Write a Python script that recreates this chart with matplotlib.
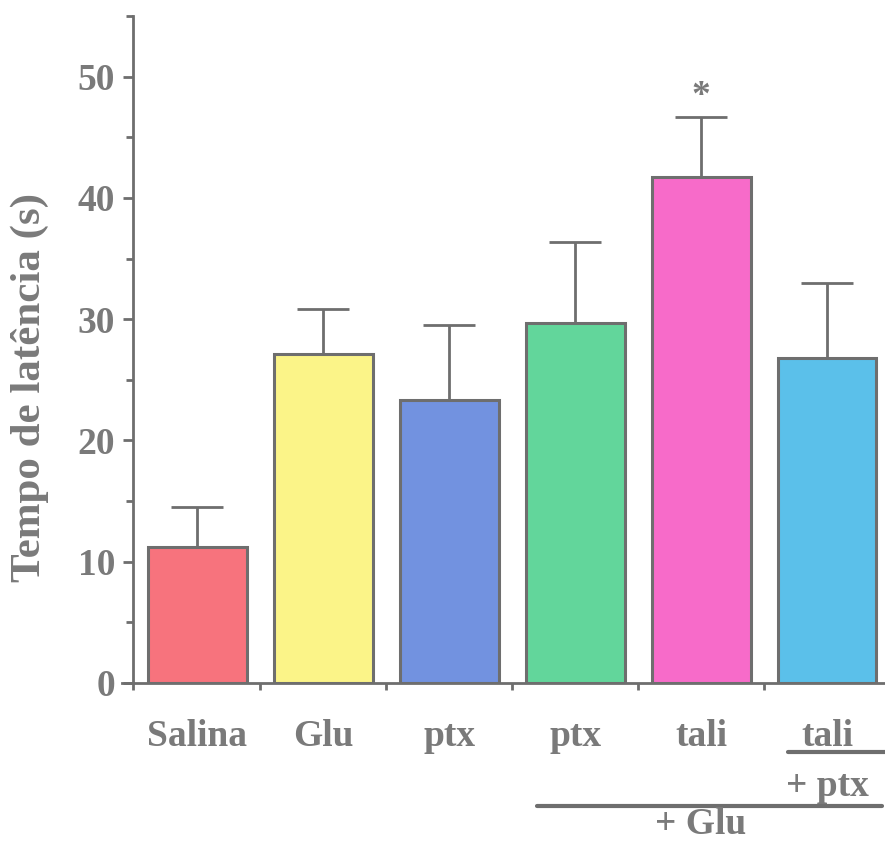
import matplotlib
matplotlib.use("Agg")
import matplotlib.pyplot as plt
from matplotlib.transforms import blended_transform_factory
from matplotlib.ticker import MultipleLocator

groups = ["Salina", "Glu", "ptx", "ptx", "tali", "tali"]
means = [11.2, 27.1, 23.3, 29.7, 41.7, 26.8]
errors = [3.3, 3.7, 6.2, 6.7, 5.0, 6.2]
colors = ["#f7737d", "#fbf488", "#7292e0", "#62d69b", "#f76bc9", "#5bc0ea"]
yticks = [0, 10, 20, 30, 40, 50]

ink = "#6e6e6e"
txt = "#7a7a7a"
plt.rcParams["font.family"] = ["Liberation Serif", "DejaVu Serif"]
plt.rcParams["font.weight"] = "bold"

fig = plt.figure(figsize=(8.85, 8.42), dpi=100)
W, H = 885, 842
ax = fig.add_axes([133 / W, (H - 683) / H, (885 - 133) / W, (683 - 16) / H])

x = list(range(len(groups)))
ax.bar(x, means, width=0.785, color=colors, edgecolor=ink, linewidth=2.2, zorder=2)
ax.errorbar(x, means, yerr=[[0] * len(errors), errors], fmt="none", ecolor=ink,
            elinewidth=2, capsize=18.5, capthick=2, zorder=3)

ax.set_xlim(-0.51, 5.46)
ax.set_ylim(0, 55)

for s in ["top", "right"]:
    ax.spines[s].set_visible(False)
for s in ["left", "bottom"]:
    ax.spines[s].set_color(ink)
    ax.spines[s].set_linewidth(2)

ax.set_yticks(yticks)
ax.yaxis.set_minor_locator(MultipleLocator(5))
ax.tick_params(axis="y", which="major", length=7, width=2, color=ink,
               labelsize=27, labelcolor=txt, pad=6)
ax.tick_params(axis="y", which="minor", length=5, width=2, color=ink)
ax.set_xticks([-0.51, 0.5, 1.5, 2.5, 3.5, 4.5])
ax.set_xticklabels([])
ax.tick_params(axis="x", length=5, width=2, color=ink)
for lab in ax.get_yticklabels():
    lab.set_fontweight("bold")

fig.text(30 / W, 1 - 388 / H, "Tempo de latência (s)", rotation=90,
         ha="center", va="center", fontsize=31, color=txt, fontweight="bold")

# short extension of the x axis to the left of the y axis
ax.plot([-0.60, -0.51], [0, 0], color=ink, lw=2, clip_on=False)

trans = blended_transform_factory(ax.transData, fig.transFigure)
for xi, g in zip(x, groups):
    ax.text(xi, 1 - 737 / H, g, transform=trans, ha="center", va="center",
            fontsize=27, color=txt, fontweight="bold")

# grouping lines for the combined treatments
ax.plot([4.69, 5.48], [1 - 752 / H] * 2, transform=trans, color=ink, lw=3,
        clip_on=False, solid_capstyle="round")
ax.text(5.0, 1 - 787 / H, "+ ptx", transform=trans, ha="center", va="center",
        fontsize=27, color=txt, fontweight="bold")
ax.plot([2.70, 5.44], [1 - 806 / H] * 2, transform=trans, color=ink, lw=3,
        clip_on=False, solid_capstyle="round")
ax.text(4.0, 1 - 825 / H, "+ Glu", transform=trans, ha="center", va="center",
        fontsize=27, color=txt, fontweight="bold")

# significance marker
ax.text(4, means[4] + errors[4] + 0.2, "*", ha="center", va="bottom",
        fontsize=27, color=txt, fontweight="bold")

fig.savefig("out.png", dpi=100)
